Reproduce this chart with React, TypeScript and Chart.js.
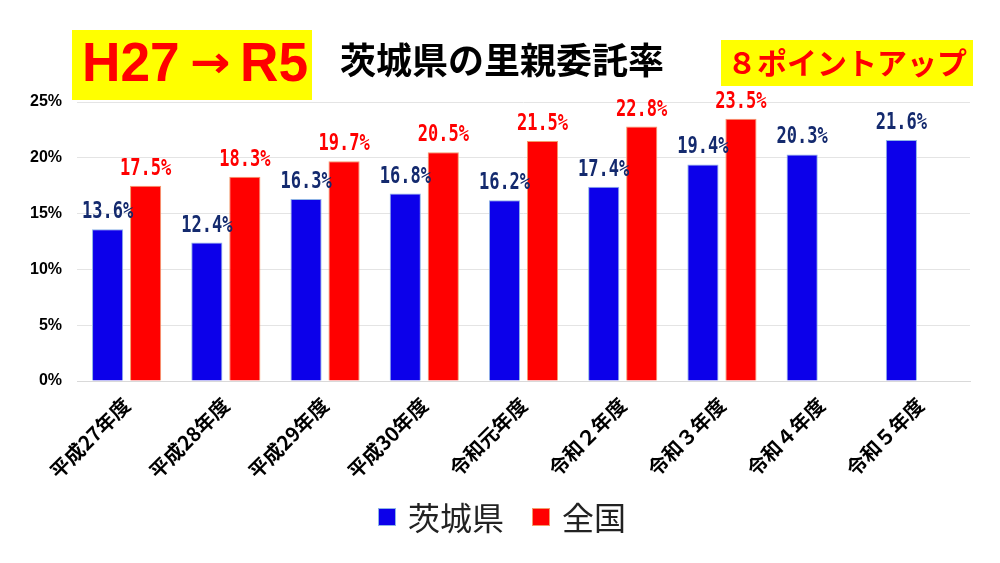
import React, { useEffect, useRef } from "react";
import { Chart, registerables } from "chart.js";

Chart.register(...registerables);

const categories = [
  "平成27年度",
  "平成28年度",
  "平成29年度",
  "平成30年度",
  "令和元年度",
  "令和２年度",
  "令和３年度",
  "令和４年度",
  "令和５年度",
];
const ibarakiValues: (number | null)[] = [13.6, 12.4, 16.3, 16.8, 16.2, 17.4, 19.4, 20.3, 21.6];
const nationalValues: (number | null)[] = [17.5, 18.3, 19.7, 20.5, 21.5, 22.8, 23.5, null, null];
const seriesNames = ["茨城県", "全国"];
const yTicks = [0, 5, 10, 15, 20, 25];
const titleText = "茨城県の里親委託率";
const badgeLeftParts = ["H27", "→", "R5"];
const badgeRight = "８ポイントアップ";

const BLUE = "#0c00ea";
const RED = "#ff0000";
const labelColors = ["#142a6e", "#ff0000"];

const CJK = '"Noto Sans CJK JP", "Noto Sans", sans-serif';

function condensed(ctx: CanvasRenderingContext2D, text: string, x: number, y: number, sx: number) {
  ctx.save();
  ctx.translate(x, y);
  ctx.scale(sx, 1);
  ctx.fillText(text, 0, 0);
  ctx.restore();
}

const dataLabelPlugin = {
  id: "dataLabels",
  afterDatasetsDraw(chart: any) {
    const ctx = chart.ctx as CanvasRenderingContext2D;
    chart.data.datasets.forEach((ds: any, di: number) => {
      const meta = chart.getDatasetMeta(di);
      meta.data.forEach((el: any, i: number) => {
        const v = ds.data[i];
        if (v === null || v === undefined) return;
        ctx.save();
        ctx.font = 'bold 23px "DejaVu Sans Mono", monospace';
        ctx.fillStyle = labelColors[di];
        ctx.textAlign = "center";
        ctx.textBaseline = "alphabetic";
        condensed(ctx, v.toFixed(1) + "%", el.x, el.y - 11, 0.74);
        ctx.restore();
      });
    });
  },
};

const decorPlugin = {
  id: "decor",
  afterDraw(chart: any) {
    const ctx = chart.ctx as CanvasRenderingContext2D;
    ctx.save();
    // left badge
    ctx.fillStyle = "#ffff00";
    ctx.fillRect(72, 30, 240, 70);
    ctx.fillStyle = "#ff0000";
    ctx.textBaseline = "middle";
    ctx.textAlign = "left";
    ctx.font = 'bold 56px "Liberation Sans", Arial, sans-serif';
    condensed(ctx, badgeLeftParts[0], 82, 66, 0.95);
    condensed(ctx, badgeLeftParts[2], 240, 66, 0.95);
    ctx.font = 'bold 44px "DejaVu Sans", sans-serif';
    ctx.textAlign = "center";
    condensed(ctx, badgeLeftParts[1], 210, 66, 1.1);
    // title
    ctx.fillStyle = "#000";
    ctx.font = "bold 36px " + CJK;
    ctx.fillText(titleText, 502, 60);
    // right badge
    ctx.fillStyle = "#ffff00";
    ctx.fillRect(721, 40, 252, 46);
    ctx.fillStyle = "#ff0000";
    ctx.font = "bold 30px " + CJK;
    ctx.fillText(badgeRight, 847, 63);

    // legend
    const items = chart.data.datasets.map((d: any) => ({
      label: d.label,
      fill: d.backgroundColor,
      stroke: d.borderColor,
    }));
    ctx.font = "32px " + CJK;
    ctx.textAlign = "left";
    ctx.textBaseline = "middle";
    const box = 18;
    const gapBox = 12;
    const gapItem = 28;
    const widths = items.map((it: any) => box + gapBox + ctx.measureText(it.label).width);
    const total = widths.reduce((a: number, b: number) => a + b, 0) + gapItem * (items.length - 1);
    let x = 500 - total / 2 + 2;
    const cy = 517;
    items.forEach((it: any, i: number) => {
      ctx.fillStyle = it.fill;
      ctx.fillRect(x, cy - box / 2, box, box);
      ctx.strokeStyle = it.stroke;
      ctx.lineWidth = 1;
      ctx.strokeRect(x + 0.5, cy - box / 2 + 0.5, box - 1, box - 1);
      ctx.fillStyle = "#222";
      ctx.fillText(it.label, x + box + gapBox, cy + 1);
      x += widths[i] + gapItem;
    });
    ctx.restore();
  },
};

export default function App() {
  const ref = useRef<HTMLCanvasElement>(null);
  useEffect(() => {
    if (!ref.current) return;
    const chart = new Chart(ref.current, {
      type: "bar",
      data: {
        labels: categories,
        datasets: [
          {
            label: seriesNames[0],
            data: ibarakiValues,
            backgroundColor: BLUE,
            borderColor: "#8fb4e6",
            borderWidth: 1,
            categoryPercentage: 0.766,
            barPercentage: 0.82,
          },
          {
            label: seriesNames[1],
            data: nationalValues,
            backgroundColor: RED,
            borderColor: "#f39a6b",
            borderWidth: 1,
            categoryPercentage: 0.766,
            barPercentage: 0.82,
          },
        ],
      },
      options: {
        animation: false,
        responsive: true,
        maintainAspectRatio: false,
        layout: { padding: { top: 102, left: 0, right: 30, bottom: 0 } },
        plugins: {
          legend: { display: false },
          tooltip: { enabled: false },
          title: { display: false },
        },
        scales: {
          x: {
            grid: { display: false, drawTicks: false },
            border: { display: true, color: "#d9d9d9" },
            ticks: {
              minRotation: 45,
              maxRotation: 45,
              padding: 12,
              color: "#000",
              font: { family: '"Liberation Sans Narrow", ' + CJK, weight: "bold", size: 20 },
            },
            afterFit(scale: any) {
              scale.height = 182;
            },
          },
          y: {
            min: 0,
            max: 25,
            afterBuildTicks(scale: any) {
              scale.ticks = yTicks.map((v) => ({ value: v }));
            },
            grid: { color: "#e4e4e4", drawTicks: false },
            border: { display: false },
            ticks: {
              padding: 15,
              color: "#000",
              font: { family: '"Liberation Sans Narrow", "Liberation Sans", sans-serif', weight: "bold", size: 16 },
              callback: (v: any) => v + "%",
            },
            afterFit(scale: any) {
              scale.width = 77;
            },
          },
        },
      },
      plugins: [dataLabelPlugin, decorPlugin],
    });
    return () => chart.destroy();
  }, []);
  return (
    <div style={{ position: "fixed", left: 0, top: 0, width: 1000, height: 563, background: "#fff" }}>
      <canvas ref={ref} />
    </div>
  );
}
